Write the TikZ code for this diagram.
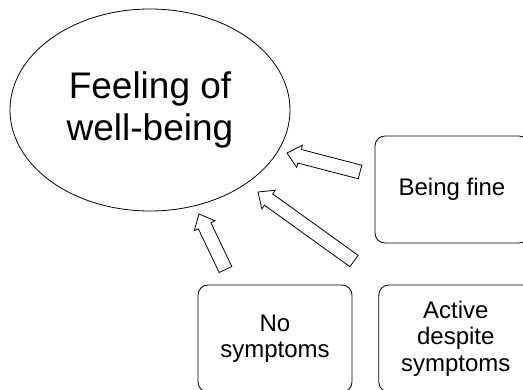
\documentclass[tikz,border=0pt]{standalone}
\usepackage{fontspec}
\setmainfont{Liberation Sans}
\usetikzlibrary{positioning, calc, shapes.geometric}

% outlined block arrow from a tail coordinate to a tip coordinate
\newcommand{\blockarrow}[2]{%
  \coordinate (#1-base) at ($(#2)!13pt!(#1)$);
  \draw[arrowbox] ($(#1)!7pt!90:(#2)$) -- ($(#1-base)!7pt!-90:(#1)$)
    -- ($(#1-base)!11.5pt!-90:(#1)$) -- (#2)
    -- ($(#1-base)!11.5pt!90:(#1)$) -- ($(#1-base)!7pt!90:(#1)$)
    -- ($(#1)!7pt!-90:(#2)$) -- cycle;}

\begin{document}
\begin{tikzpicture}[
        x=1pt, y=-1pt,
        every node/.style={draw, line width=0.8pt, align=center},
        wellbeing/.style={ellipse, minimum width=280pt, minimum height=202pt,
            font=\fontsize{37}{42}\selectfont},
        itembox/.style={rounded corners=10pt, minimum width=154pt, minimum height=107pt,
            font=\fontsize{24}{26.5}\selectfont},
        arrowbox/.style={draw, line width=0.8pt, fill=white, line join=miter}
        ]
        \clip (0,0) rectangle (523,390);
        % Nodes
        \node[wellbeing] (well) at (150,110) {Feeling of\\well-being};
        \node[itembox] (fine) at (452,189.5) {Being fine};
        \node[itembox] (nosym) at (275,338.5) {No\\symptoms};
        \node[itembox] (active) [right=26pt of nosym] {Active\\despite\\symptoms};

        % Arrows
        \coordinate (fine-tail) at (360,172);
        \coordinate (fine-tip) at (287,153);
        \coordinate (active-tail) at (354,261);
        \coordinate (active-tip) at (258,192);
        \coordinate (nosym-tail) at (225.5,269.5);
        \coordinate (nosym-tip) at (199,214);
        \blockarrow{fine-tail}{fine-tip}
        \blockarrow{active-tail}{active-tip}
        \blockarrow{nosym-tail}{nosym-tip}
    \end{tikzpicture}
\end{document}
